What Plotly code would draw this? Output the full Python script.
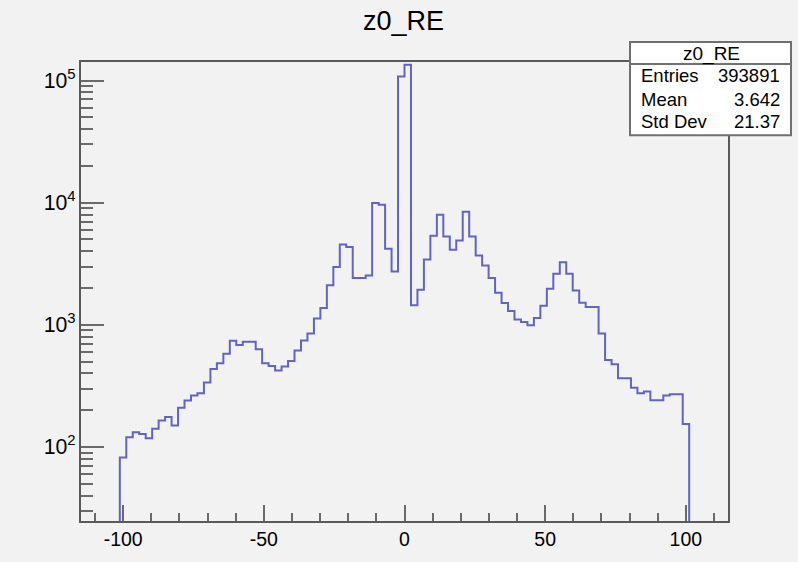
import numpy as np
import plotly.graph_objects as go

# Histogram definition (ROOT TH1: 100 bins over [-115, 115])
hist_name = "z0_RE"
x_low, x_high, n_bins = -115.0, 115.0, 100
first_filled_bin = 6

# Bin contents for bins 6..93
counts = [
    82, 120, 132, 128, 118, 141, 165, 176, 150, 210,
    240, 264, 275, 338, 435, 484, 580, 741, 683, 727,
    727, 632, 484, 460, 422, 455, 505, 617, 745, 849,
    1125, 1374, 2105, 2970, 4540, 4330, 2415, 2415, 2540, 9930,
    9620, 4190, 2735, 108000, 135000, 1450, 1940, 3430, 5370, 7960,
    5300, 4110, 4900, 8430, 5300, 3690, 3060, 2415, 1833, 1510,
    1300, 1104, 1057, 993, 1140, 1430, 1977, 2620, 3260, 2620,
    1915, 1520, 1403, 1403, 849, 515, 475, 365, 365, 306,
    275, 284, 241, 241, 264, 270, 270, 154,
]

stat_labels = ["Entries", "Mean", "Std Dev"]
stat_values = ["393891", "3.642", "21.37"]

x_tick_vals = [-100, -50, 0, 50, 100]
y_log_range = [1.394, 5.152]

# ---- build step outline -------------------------------------------------
bw = (x_high - x_low) / n_bins
edges = x_low + bw * (first_filled_bin + np.arange(len(counts) + 1))
floor = 1.0  # below visible range -> line drops to the axis
xs = np.concatenate([[edges[0]], edges[:-1], [edges[-1]]])
ys = np.concatenate([[floor], np.array(counts, float), [floor]])

line_col = "#6262c8"
axis_col = "#5a5a5a"
tick_col = "#6a6a6a"
font_fam = "Liberation Sans, Arial, sans-serif"

fig = go.Figure()
fig.add_trace(go.Scatter(
    x=xs, y=ys, mode="lines", line=dict(shape="hv", color=line_col, width=2),
    hoverinfo="skip", showlegend=False, cliponaxis=True,
))

W, H = 798, 562
ml, mr, mt, mb = 81, 70, 62, 39
pw, ph = W - ml - mr, H - mt - mb

def px_x(px):
    return (px - ml) / pw

def px_y(py):
    return (H - mb - py) / ph

fig.update_layout(
    width=W, height=H,
    margin=dict(l=ml, r=mr, t=mt, b=mb, pad=0),
    paper_bgcolor="#f2f2f2", plot_bgcolor="#f2f2f2",
    font=dict(family=font_fam, color="black"),
    title=dict(text=hist_name, x=403.5 / W, y=(H - 21) / H, xanchor="center",
               yanchor="middle", font=dict(size=27, family=font_fam, color="black")),
    xaxis=dict(
        range=[x_low, x_high], showgrid=False, zeroline=False,
        showline=True, linecolor=axis_col, linewidth=2, mirror=True,
        ticks="inside", ticklen=16, tickwidth=2, tickcolor=tick_col,
        tickvals=x_tick_vals, ticktext=[str(v) for v in x_tick_vals],
        tickfont=dict(size=19.5, family=font_fam, color="black"),
        minor=dict(ticks="inside", ticklen=8, tickwidth=2, tickcolor=tick_col,
                   dtick=10, tick0=0, showgrid=False),
    ),
    yaxis=dict(
        type="log", range=y_log_range, showgrid=False, zeroline=False,
        showline=True, linecolor=axis_col, linewidth=2, mirror=True,
        ticks="inside", ticklen=23, tickwidth=2, tickcolor=tick_col,
        dtick=1, exponentformat="power",
        tickfont=dict(size=17, family=font_fam, color="black"),
        minor=dict(ticks="inside", ticklen=12, tickwidth=2, tickcolor=tick_col,
                   dtick="D1", showgrid=False),
    ),
)

# ---- statistics box --------------------------------------------------
bx0, bx1, by0, by1, bsep = 630, 791, 42, 135.5, 64
fig.add_shape(type="rect", xref="paper", yref="paper",
              x0=px_x(bx0), x1=px_x(bx1), y0=px_y(by1), y1=px_y(by0),
              fillcolor="white", line=dict(color="#707070", width=2), layer="above")
fig.add_shape(type="line", xref="paper", yref="paper",
              x0=px_x(bx0), x1=px_x(bx1), y0=px_y(bsep), y1=px_y(bsep),
              line=dict(color="#707070", width=2), layer="above")
fig.add_annotation(xref="paper", yref="paper", x=px_x(711), y=px_y(54),
                   text=hist_name, showarrow=False, xanchor="center", yanchor="middle",
                   font=dict(size=19, family=font_fam, color="black"))
row_y = [75.5, 99.5, 122]
for lab, val, ry in zip(stat_labels, stat_values, row_y):
    fig.add_annotation(xref="paper", yref="paper", x=px_x(638.5), y=px_y(ry),
                       text=lab, showarrow=False, xanchor="left", yanchor="middle",
                       font=dict(size=18.5, family=font_fam, color="black"))
    fig.add_annotation(xref="paper", yref="paper", x=px_x(782), y=px_y(ry),
                       text=val, showarrow=False, xanchor="right", yanchor="middle",
                       font=dict(size=18.5, family=font_fam, color="black"))

fig.write_html("out.html")
